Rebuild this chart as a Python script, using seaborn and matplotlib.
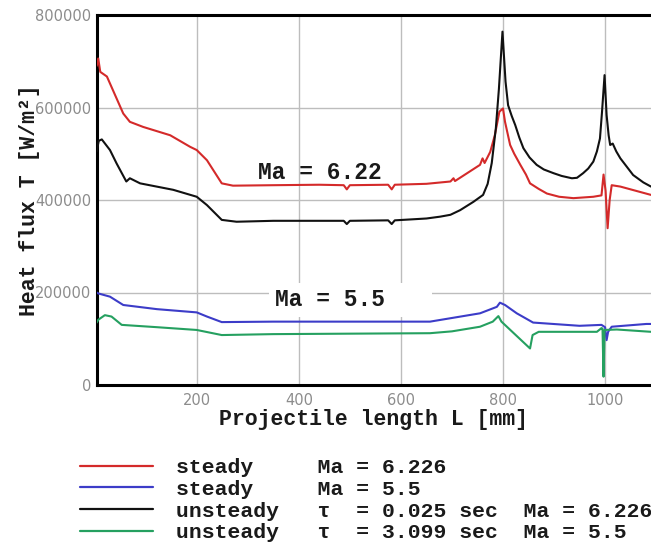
import numpy as np
import pandas as pd
import matplotlib
matplotlib.use("Agg")
import matplotlib.pyplot as plt
from matplotlib.lines import Line2D
from matplotlib.font_manager import FontProperties
import seaborn as sns

# ---------------- data ----------------
red_x = [4, 7, 11, 24, 40, 56, 69, 95, 148, 187, 200, 220, 249, 271, 350, 440, 488, 494, 500,
         575, 582, 588, 650, 697, 703, 706, 755, 760, 764, 775, 784, 793, 800, 804, 814, 822,
         834, 845, 853, 870, 886, 910, 938, 977, 993, 997, 1001, 1005, 1009, 1013, 1030, 1090]
red_y = [690e3, 706e3, 677e3, 667e3, 627e3, 587e3, 569e3, 558e3, 540e3, 515e3, 508e3, 486e3,
         436e3, 431e3, 432e3, 433e3, 432e3, 423e3, 432e3, 433e3, 423e3, 433e3, 435e3, 440e3,
         447e3, 441e3, 476e3, 490e3, 480e3, 504e3, 540e3, 591e3, 598e3, 569e3, 519e3, 500e3,
         476e3, 455e3, 436e3, 424e3, 414e3, 407e3, 404e3, 407e3, 410e3, 455e3, 420e3, 339e3,
         400e3, 432e3, 429e3, 411e3]

blk_x = [4, 8, 14, 30, 43, 62, 69, 89, 154, 200, 220, 249, 278, 350, 488, 494, 500, 575, 582,
         588, 650, 677, 697, 716, 742, 761, 770, 778, 786, 792, 799, 805, 810, 817, 824, 832,
         840, 852, 866, 880, 899, 915, 935, 945, 957, 967, 977, 984, 990, 994, 999, 1003, 1007,
         1010, 1015, 1022, 1030, 1055, 1075, 1090]
blk_y = [505e3, 528e3, 531e3, 508e3, 479e3, 440e3, 447e3, 436e3, 422e3, 407e3, 389e3, 357e3,
         353e3, 355e3, 355e3, 348e3, 355e3, 356e3, 348e3, 356e3, 360e3, 364e3, 368e3, 378e3,
         396e3, 411e3, 435e3, 480e3, 555e3, 640e3, 764e3, 656e3, 605e3, 582e3, 562e3, 535e3,
         512e3, 492e3, 476e3, 466e3, 458e3, 452e3, 447e3, 448e3, 458e3, 468e3, 483e3, 505e3,
         533e3, 590e3, 670e3, 584e3, 540e3, 519e3, 522e3, 505e3, 490e3, 454e3, 438e3, 429e3]

blu_x = [4, 7, 30, 56, 122, 200, 220, 249, 350, 500, 657, 755, 788, 794, 804, 827, 859, 950,
         993, 1000, 1003, 1006, 1013, 1081, 1090]
blu_y = [200e3, 198e3, 191e3, 173e3, 164e3, 157e3, 148e3, 136e3, 137e3, 137e3, 137e3, 155e3,
         169e3, 178e3, 173e3, 155e3, 135e3, 128e3, 130e3, 125e3, 97e3, 115e3, 126e3, 132e3,
         132e3]

grn_x = [4, 7, 20, 33, 53, 122, 200, 249, 350, 500, 657, 700, 755, 780, 791, 797, 853, 858,
         870, 984, 993, 995, 997, 999, 1023, 1090]
grn_y = [135e3, 141e3, 151e3, 148e3, 130e3, 125e3, 119e3, 108e3, 110e3, 111e3, 112e3, 116e3,
         126e3, 137e3, 149e3, 137e3, 79e3, 108e3, 115e3, 115e3, 123e3, 122e3, 18e3, 119e3,
         120e3, 115e3]

series_names = ["steady Ma 6.226", "steady Ma 5.5", "unsteady Ma 6.226", "unsteady Ma 5.5"]
legend_labels = ["steady     Ma = 6.226",
                 "steady     Ma = 5.5",
                 "unsteady   \u03c4  = 0.025 sec  Ma = 6.226",
                 "unsteady   \u03c4  = 3.099 sec  Ma = 5.5"]
colors = ["#d42a2a", "#3c3cc8", "#111111", "#25a060"]

x_ticks = [200, 400, 600, 800, 1000]
y_ticks = [0, 200000, 400000, 600000, 800000]
y_ticklabels = ["0", "200000", "400000", "600000", "800000"]

# ---------------- build table ----------------
frames = []
for name, xs, ys in zip(series_names, [red_x, blu_x, blk_x, grn_x], [red_y, blu_y, blk_y, grn_y]):
    frames.append(pd.DataFrame({"L": xs, "q": ys, "series": name}))
df = pd.concat(frames, ignore_index=True)

# ---------------- figure ----------------
sns.set_style("white")
W, H = 651, 545
fig = plt.figure(figsize=(W / 100, H / 100), dpi=100)
ax_left, ax_right, ax_top, ax_bot = 96.7, 651, 15, 385
ax = fig.add_axes([ax_left / W, 1 - ax_bot / H, (ax_right - ax_left) / W, (ax_bot - ax_top) / H])

sns.lineplot(data=df, x="L", y="q", hue="series", hue_order=series_names,
             palette=dict(zip(series_names, colors)), estimator=None, sort=False,
             legend=False, linewidth=1.5, ax=ax, zorder=3)

ax.set_xlim(4, 1090)
ax.set_ylim(0, 800000)
ax.set_xticks(x_ticks)
ax.set_xticklabels([str(v) for v in x_ticks])
ax.set_yticks(y_ticks)
ax.set_yticklabels(y_ticklabels)
ax.set_xticks(np.arange(50, 1090, 50), minor=True)
ax.set_yticks(np.arange(50000, 800000, 50000), minor=True)

ax.grid(True, which="major", color="#bdbdbd", linewidth=1.0, zorder=0)
ax.set_axisbelow(True)

for s in ["left", "bottom", "top"]:
    ax.spines[s].set_visible(True)
    ax.spines[s].set_color("black")
    ax.spines[s].set_linewidth(2.2)
ax.spines["right"].set_visible(False)

ax.tick_params(which="major", direction="in", length=7, width=1.6, color="black",
               labelsize=10.5, labelcolor="#8c8c8c", pad=6)
ax.tick_params(which="minor", direction="in", length=4, width=1.0, color="#666666")
ax.tick_params(axis="y", which="major", pad=4)
for lab in ax.get_xticklabels() + ax.get_yticklabels():
    lab.set_family("DejaVu Sans")

label_font = dict(family="Liberation Mono", weight="bold", size=15.5, color="#1a1a1a")
ax.set_xlabel("Projectile length L [mm]", **label_font)
ax.set_ylabel("Heat flux T [W/m\u00b2]", **label_font)
ax.xaxis.set_label_coords(0.5, -(409 - ax_bot) / (ax_bot - ax_top))
ax.yaxis.set_label_coords(-(ax_left - 40) / (ax_right - ax_left), 0.5)

ann_font = dict(family="Liberation Mono", weight="bold", size=16.5, color="#1a1a1a")
ax.text(441, 460000, "Ma = 6.22", ha="center", va="center", zorder=5, **ann_font)
ax.text(353, 184000, "Ma = 5.5   ", ha="left", va="center", zorder=5,
        bbox=dict(boxstyle="square,pad=0.25", fc="white", ec="none"), **ann_font)

# ---------------- legend ----------------
handles = [Line2D([0], [0], color=c, lw=1.6) for c in colors]
fig.legend(handles, legend_labels, loc="upper left",
           bbox_to_anchor=(80 / W, 1 - 458 / H),
           prop=FontProperties(family="Liberation Mono", weight="bold", size=15.4),
           frameon=False, handlelength=3.4, handletextpad=1.08, labelspacing=0.13,
           borderpad=0, borderaxespad=0, labelcolor="#1a1a1a")

fig.savefig("out.png", dpi=100)
